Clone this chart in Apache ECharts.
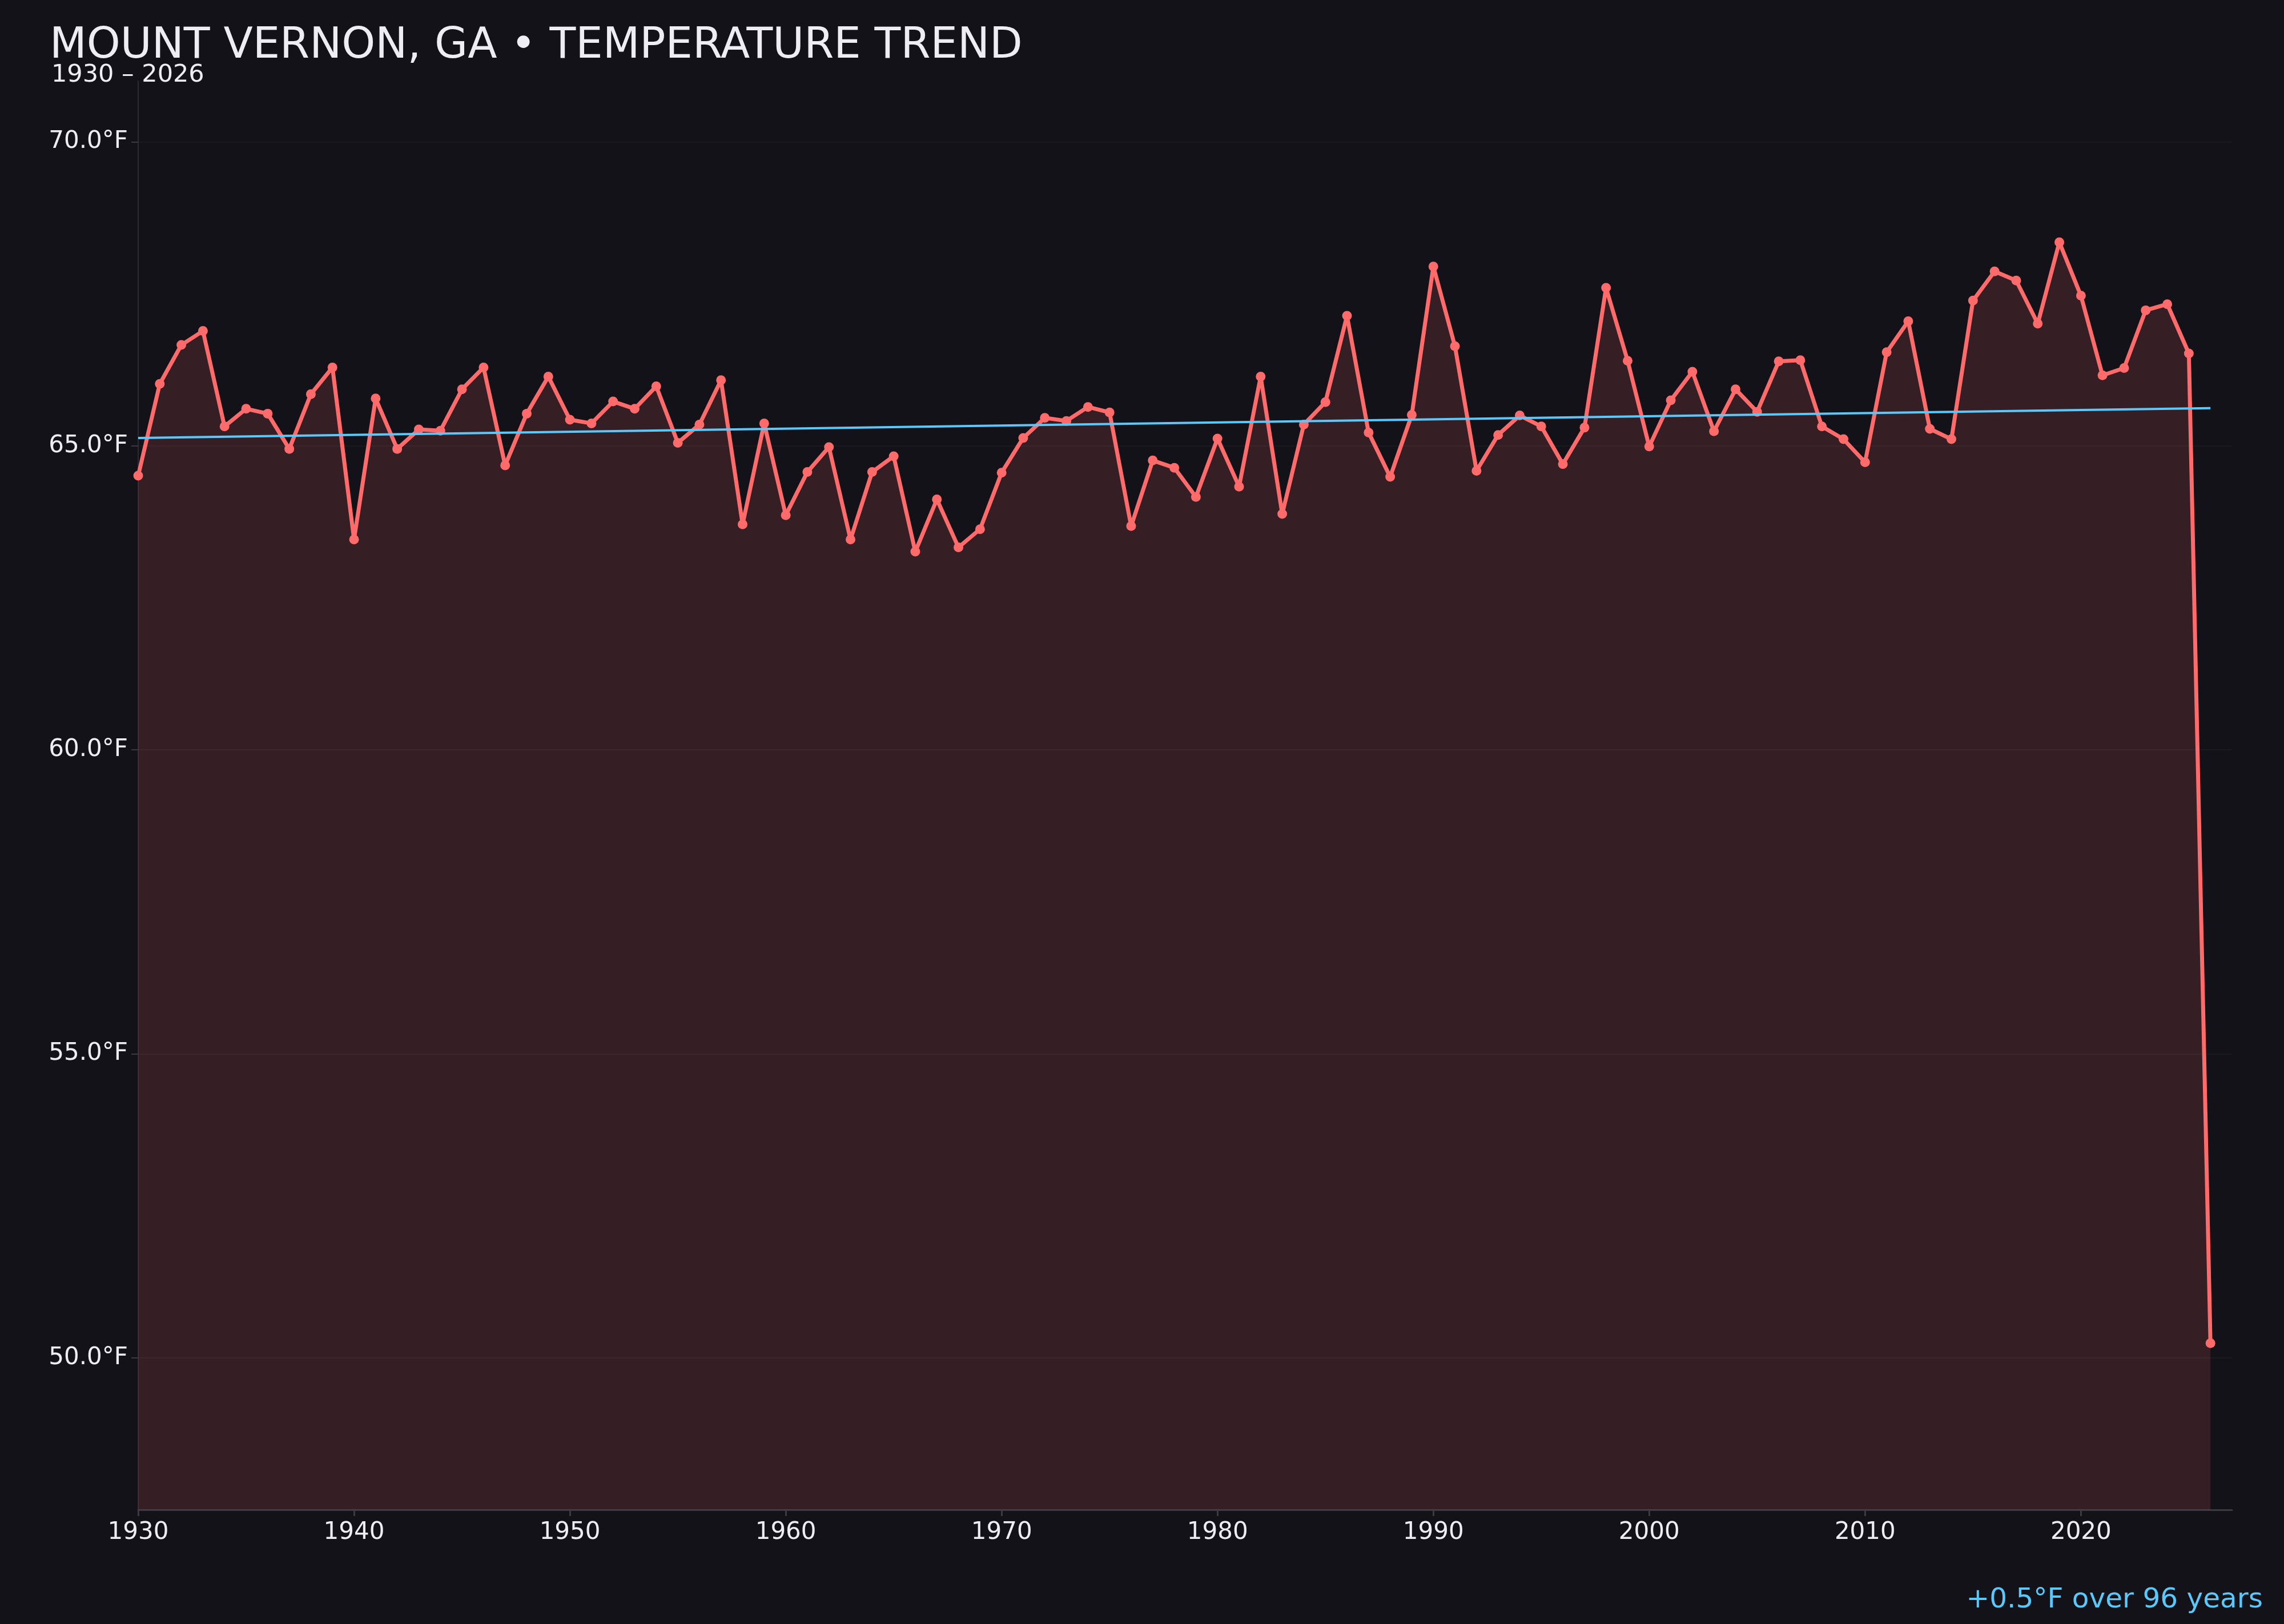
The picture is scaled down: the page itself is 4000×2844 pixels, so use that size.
<!DOCTYPE html>
<html>
<head>
<meta charset="utf-8">
<script src="https://cdn.jsdelivr.net/npm/echarts@6/dist/echarts.min.js"></script>
<style>
html,body{margin:0;padding:0;background:#131218;}
#c{width:4000px;height:2844px;}
</style>
</head>
<body>
<div id="c"></div>
<script>
const TITLE = 'MOUNT VERNON, GA \u2022 TEMPERATURE TREND';
const SUBTITLE = '1930 \u2013 2026';
const FOOTNOTE = '+0.5\u00B0F over 96 years';

const years = [
  1930,1931,1932,1933,1934,1935,1936,1937,1938,1939,
  1940,1941,1942,1943,1944,1945,1946,1947,1948,1949,
  1950,1951,1952,1953,1954,1955,1956,1957,1958,1959,
  1960,1961,1962,1963,1964,1965,1966,1967,1968,1969,
  1970,1971,1972,1973,1974,1975,1976,1977,1978,1979,
  1980,1981,1982,1983,1984,1985,1986,1987,1988,1989,
  1990,1991,1992,1993,1994,1995,1996,1997,1998,1999,
  2000,2001,2002,2003,2004,2005,2006,2007,2008,2009,
  2010,2011,2012,2013,2014,2015,2016,2017,2018,2019,
  2020,2021,2022,2023,2024,2025,2026
];
const temps = [
  64.51,66.02,66.66,66.89,65.32,65.61,65.53,64.95,65.85,66.29,
  63.46,65.78,64.95,65.27,65.25,65.93,66.29,64.68,65.53,66.14,
  65.43,65.37,65.73,65.61,65.98,65.05,65.35,66.08,63.71,65.37,
  63.86,64.57,64.98,63.46,64.57,64.83,63.26,64.12,63.33,63.63,
  64.56,65.13,65.46,65.41,65.64,65.55,63.68,64.76,64.64,64.16,
  65.12,64.33,66.14,63.88,65.35,65.72,67.14,65.22,64.49,65.51,
  67.95,66.64,64.59,65.18,65.50,65.32,64.70,65.30,67.60,66.40,
  64.99,65.75,66.22,65.24,65.93,65.56,66.39,66.41,65.32,65.11,
  64.73,66.54,67.05,65.28,65.11,67.39,67.87,67.72,67.01,68.35,
  67.47,66.16,66.28,67.23,67.33,66.52,50.24
];
const trendYears = [1930, 2026];
const trendValues = [65.13, 65.62];
const xTicks = [1930,1940,1950,1960,1970,1980,1990,2000,2010,2020];
const yTicks = [50,55,60,65,70];

const FONT = 'DejaVu Sans';
const TEXT = '#efedf4';
const minorGrid = 'rgba(255,255,255,0.035)';
const majorGrid = 'rgba(255,255,255,0.085)';
const gridColors = [];
for (let i = 0; i < 10; i++) gridColors.push(i === 5 ? majorGrid : minorGrid);

const chart = echarts.init(document.getElementById('c'), null, {renderer: 'canvas', width: 4000, height: 2844});
chart.setOption({
  backgroundColor: '#131218',
  animation: false,
  title: [
    {text: TITLE, left: 87, top: 44, padding: 0,
     textStyle: {color: TEXT, fontFamily: FONT, fontSize: 75, fontWeight: 'normal'}},
    {text: SUBTITLE, left: 90, top: 110, padding: 0,
     textStyle: {color: TEXT, fontFamily: FONT, fontSize: 43, fontWeight: 'normal'}},
    {text: FOOTNOTE, right: 37, top: 2778, padding: 0,
     textStyle: {color: '#5ac8fa', fontFamily: FONT, fontSize: 48.5, fontWeight: 'normal'}}
  ],
  grid: {left: 242, right: 91, top: 142, bottom: 200, containLabel: false, outerBoundsMode: 'none'},
  xAxis: {
    type: 'value', min: 1930, max: 2027, interval: 10,
    axisLine: {show: true, lineStyle: {color: '#3a3a44', width: 3}},
    axisTick: {show: true, length: 11, customValues: xTicks, lineStyle: {color: '#3a3a44', width: 3}},
    axisLabel: {customValues: xTicks, margin: 19, color: TEXT, fontFamily: FONT, fontSize: 42,
                formatter: v => String(v)},
    splitLine: {show: false}
  },
  yAxis: {
    type: 'value', min: 47.5, max: 71, interval: 0.5,
    axisLine: {show: true, lineStyle: {color: '#2c2b33', width: 2}},
    axisTick: {show: true, length: 12, customValues: yTicks, lineStyle: {color: '#3a3a44', width: 2}},
    axisLabel: {customValues: yTicks, margin: 18, color: TEXT, fontFamily: FONT, fontSize: 42,
                formatter: v => v.toFixed(1) + '\u00B0F'},
    splitLine: {show: true, lineStyle: {color: gridColors, width: 2}}
  },
  series: [
    {
      type: 'line',
      data: years.map((y, i) => [y, temps[i]]),
      symbol: 'circle', symbolSize: 17, showAllSymbol: true,
      lineStyle: {color: '#ff6b6b', width: 7},
      itemStyle: {color: '#ff6b6b'},
      areaStyle: {color: '#ff6b6b', opacity: 0.15, origin: 'start'},
      z: 2
    },
    {
      type: 'line',
      data: trendYears.map((y, i) => [y, trendValues[i]]),
      symbol: 'none',
      lineStyle: {color: '#5ac8fa', width: 4},
      z: 3
    }
  ]
});
</script>
</body>
</html>
